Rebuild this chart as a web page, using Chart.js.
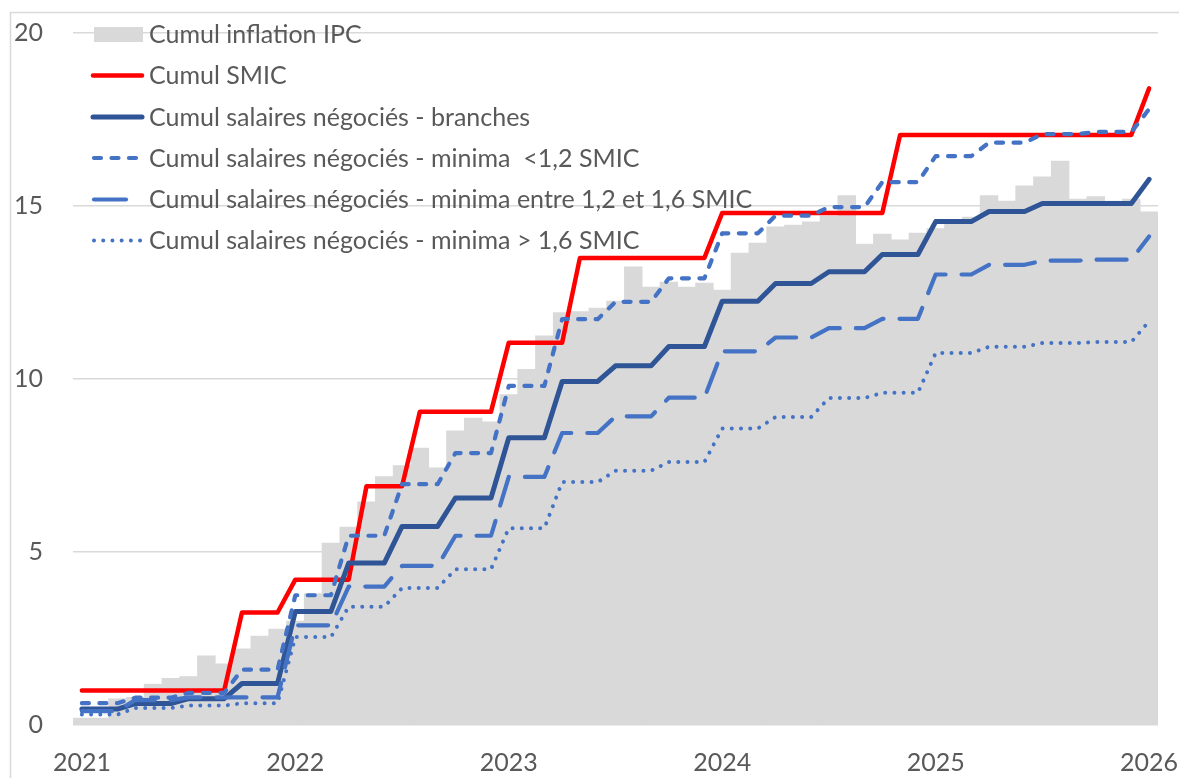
<!DOCTYPE html>
<html><head><meta charset="utf-8">
<script src="https://cdn.jsdelivr.net/npm/chart.js@4.4.1/dist/chart.umd.min.js"></script>
<style>html,body{margin:0;padding:0;background:#fff;overflow:hidden}canvas{display:block}</style>
</head><body>
<canvas id="c" width="1179" height="778"></canvas>
<script>
// ---- categories (monthly, Jan 2021 -> Jan 2026)
const months = [
 "2021-01","2021-02","2021-03","2021-04","2021-05","2021-06","2021-07","2021-08","2021-09","2021-10","2021-11","2021-12",
 "2022-01","2022-02","2022-03","2022-04","2022-05","2022-06","2022-07","2022-08","2022-09","2022-10","2022-11","2022-12",
 "2023-01","2023-02","2023-03","2023-04","2023-05","2023-06","2023-07","2023-08","2023-09","2023-10","2023-11","2023-12",
 "2024-01","2024-02","2024-03","2024-04","2024-05","2024-06","2024-07","2024-08","2024-09","2024-10","2024-11","2024-12",
 "2025-01","2025-02","2025-03","2025-04","2025-05","2025-06","2025-07","2025-08","2025-09","2025-10","2025-11","2025-12",
 "2026-01"];
const yTicks = [0, 5, 10, 15, 20];

// ---- series
const cumulIPC = [
 0.2,0.2,0.76,0.8,1.18,1.35,1.4,2.0,1.77,2.2,2.57,2.77,
 3.0,3.8,5.26,5.72,6.45,7.18,7.5,8.0,7.43,8.5,8.87,8.76,
 9.55,10.28,11.25,11.92,11.95,12.05,12.25,13.24,12.66,12.8,12.66,12.77,
 12.57,13.64,13.93,14.4,14.45,14.54,14.71,15.3,13.9,14.19,14.02,14.22,
 14.35,14.55,14.68,15.3,15.14,15.58,15.84,16.3,15.2,15.27,15.14,15.2,
 14.83];
const cumulSMIC = [
 1.0,1.0,1.0,1.0,1.0,1.0,1.0,1.0,1.0,3.25,3.25,3.25,
 4.2,4.2,4.2,4.2,6.9,6.9,6.9,9.05,9.05,9.05,9.05,9.05,
 11.05,11.05,11.05,11.05,13.5,13.5,13.5,13.5,13.5,13.5,13.5,13.5,
 14.8,14.8,14.8,14.8,14.8,14.8,14.8,14.8,14.8,14.8,17.05,17.05,
 17.05,17.05,17.05,17.05,17.05,17.05,17.05,17.05,17.05,17.05,17.05,17.05,
 18.4];
const salBranches = [
 0.46,0.46,0.46,0.62,0.62,0.62,0.76,0.76,0.76,1.2,1.2,1.2,
 3.28,3.28,3.28,4.68,4.68,4.68,5.74,5.74,5.74,6.56,6.56,6.56,
 8.3,8.3,8.3,9.93,9.93,9.93,10.38,10.38,10.38,10.94,10.94,10.94,
 12.25,12.25,12.25,12.76,12.76,12.76,13.1,13.1,13.1,13.6,13.6,13.6,
 14.55,14.55,14.55,14.84,14.84,14.84,15.07,15.07,15.07,15.07,15.07,15.07,
 15.77];
const minimaBas = [
 0.63,0.63,0.63,0.79,0.79,0.79,0.93,0.93,0.93,1.6,1.6,1.6,
 3.75,3.75,3.75,5.47,5.47,5.47,6.96,6.96,6.96,7.86,7.86,7.86,
 9.8,9.8,9.8,11.73,11.73,11.73,12.23,12.23,12.23,12.91,12.91,12.91,
 14.21,14.21,14.21,14.72,14.72,14.72,14.97,14.97,14.97,15.69,15.69,15.69,
 16.44,16.44,16.44,16.83,16.83,16.83,17.08,17.08,17.08,17.14,17.14,17.14,
 17.8];
const minimaMilieu = [
 0.4,0.4,0.4,0.72,0.72,0.72,0.8,0.8,0.8,0.8,0.8,0.8,
 2.88,2.88,2.88,4.0,4.0,4.0,4.6,4.6,4.6,5.47,5.47,5.47,
 7.17,7.17,7.17,8.44,8.44,8.44,8.92,8.92,8.92,9.46,9.46,9.46,
 10.8,10.8,10.8,11.2,11.2,11.2,11.47,11.47,11.47,11.74,11.74,11.74,
 13.02,13.02,13.02,13.3,13.3,13.3,13.42,13.42,13.42,13.45,13.45,13.45,
 14.12];
const minimaHaut = [
 0.3,0.3,0.3,0.49,0.49,0.49,0.56,0.56,0.56,0.63,0.63,0.63,
 2.54,2.54,2.54,3.42,3.42,3.42,3.96,3.96,3.96,4.5,4.5,4.5,
 5.69,5.69,5.69,7.02,7.02,7.02,7.35,7.35,7.35,7.6,7.6,7.6,
 8.57,8.57,8.57,8.9,8.9,8.9,9.45,9.45,9.45,9.6,9.6,9.6,
 10.75,10.75,10.75,10.93,10.93,10.93,11.04,11.04,11.04,11.07,11.07,11.07,
 11.67];

const TEXT = '#595959', GRID = '#d9d9d9', FONT = 'Lato';

const framePlugin = {
  id: 'frame',
  beforeDraw(chart) {
    const ctx = chart.ctx;
    ctx.save();
    ctx.fillStyle = '#fff';
    ctx.fillRect(0, 0, chart.width, chart.height);
    ctx.strokeStyle = GRID; ctx.lineWidth = 1.5;
    ctx.beginPath();
    ctx.moveTo(10.5, chart.height); ctx.lineTo(10.5, 12.5); ctx.lineTo(chart.width, 12.5);
    ctx.stroke();
    ctx.restore();
  }
};

const legendPlugin = {
  id: 'inlineLegend',
  afterDatasetsDraw(chart) {
    const ctx = chart.ctx;
    const rows = [34.5, 75.5, 117, 158, 199.5, 240.5];
    ctx.save();
    ctx.font = '25px ' + FONT;
    ctx.textBaseline = 'alphabetic';
    chart.data.datasets.forEach((ds, i) => {
      const y = rows[i];
      if (ds.type === 'bar') {
        ctx.fillStyle = ds.backgroundColor;
        ctx.fillRect(94, y - 7.5, 49, 15);
      } else {
        ctx.strokeStyle = ds.borderColor;
        ctx.lineWidth = ds.borderWidth;
        ctx.lineCap = ds.borderCapStyle || 'butt';
        ctx.setLineDash(ds.legendDash || []);
        ctx.beginPath();
        ctx.moveTo(ds.legendFrom || 92, y);
        ctx.lineTo(ds.legendTo || 143, y);
        ctx.stroke();
        ctx.setLineDash([]);
      }
      ctx.fillStyle = TEXT;
      ctx.fillText(ds.label, 149, y + 8.8);
    });
    ctx.restore();
  }
};

new Chart(document.getElementById('c'), {
  data: {
    labels: months,
    datasets: [
      { type: 'bar', label: 'Cumul inflation IPC', data: cumulIPC, backgroundColor: '#d9d9d9',
        borderWidth: 0, barPercentage: 1, categoryPercentage: 1, order: 10 },
      { type: 'line', label: 'Cumul SMIC', data: cumulSMIC, borderColor: '#ff0000', borderWidth: 4.5,
        pointRadius: 0, tension: 0, borderJoinStyle: 'round', borderCapStyle: 'round', order: 5,
        legendFrom: 93, legendTo: 142 },
      { type: 'line', label: 'Cumul salaires négociés - branches', data: salBranches, borderColor: '#2f5597', borderWidth: 5,
        pointRadius: 0, tension: 0, borderJoinStyle: 'round', borderCapStyle: 'round', order: 4,
        legendFrom: 93, legendTo: 142 },
      { type: 'line', label: 'Cumul salaires négociés - minima  <1,2 SMIC', data: minimaBas, borderColor: '#4472c4', borderWidth: 4.2,
        borderDash: [7, 10.5], borderCapStyle: 'round', borderJoinStyle: 'round',
        pointRadius: 0, tension: 0, order: 3, legendDash: [7, 10.5], legendFrom: 94, legendTo: 143 },
      { type: 'line', label: 'Cumul salaires négociés - minima entre 1,2 et 1,6 SMIC', data: minimaMilieu, borderColor: '#4472c4', borderWidth: 4.2,
        borderDash: [30, 16], borderCapStyle: 'round', borderJoinStyle: 'round',
        pointRadius: 0, tension: 0, order: 2, legendFrom: 94, legendTo: 126 },
      { type: 'line', label: 'Cumul salaires négociés - minima > 1,6 SMIC', data: minimaHaut, borderColor: '#4472c4', borderWidth: 4,
        borderDash: [0.01, 9.2], borderCapStyle: 'round', borderJoinStyle: 'round',
        pointRadius: 0, tension: 0, order: 1, legendDash: [0.01, 9.2], legendFrom: 94, legendTo: 143 }
    ]
  },
  options: {
    responsive: false,
    devicePixelRatio: 1,
    animation: false,
    events: [],
    layout: { padding: { top: 33, right: 21, left: 0, bottom: 0 } },
    plugins: { legend: { display: false }, tooltip: { enabled: false } },
    scales: {
      x: {
        type: 'category',
        offset: true,
        grid: { display: false, drawTicks: false },
        border: { display: false },
        ticks: {
          autoSkip: false, maxRotation: 0, minRotation: 0, padding: 23,
          color: TEXT, font: { family: FONT, size: 25 },
          callback: (v, i) => months[i].endsWith('-01') ? months[i].slice(0, 4) : ''
        },
        afterFit: (s) => { s.height = 53; s.paddingLeft = 0; s.paddingRight = 0; }
      },
      y: {
        min: 0, max: 20,
        afterBuildTicks: (s) => { s.ticks = yTicks.map(v => ({ value: v })); },
        grid: { color: GRID, lineWidth: 1.5, drawTicks: false },
        border: { display: false },
        ticks: { padding: 30, color: TEXT, font: { family: FONT, size: 25 } },
        afterFit: (s) => { s.width = 73; s.paddingTop = 0; s.paddingBottom = 0; }
      }
    }
  },
  plugins: [framePlugin, legendPlugin]
});
</script>
</body></html>
